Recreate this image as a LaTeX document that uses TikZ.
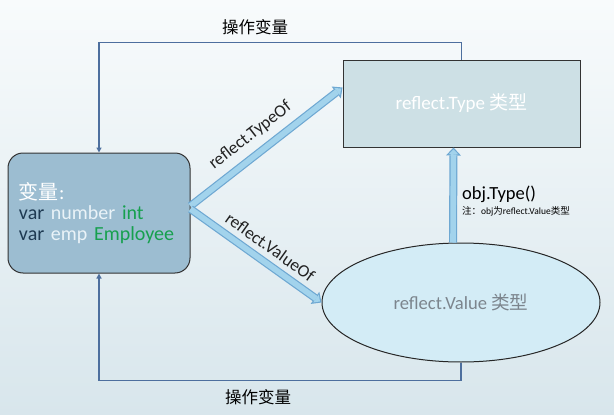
\documentclass[tikz,border=0pt]{standalone}
\usepackage{fontspec}
\setmainfont{Carlito}
\newfontfamily\cjk{Noto Sans CJK SC}
\usetikzlibrary{arrows.meta,shapes.geometric,calc}
\definecolor{bgtop}{HTML}{F8FBFC}
\definecolor{bgbot}{HTML}{D8E6EC}
\definecolor{varfill}{HTML}{9CBDD1}
\definecolor{vardark}{HTML}{1E3A52}
\definecolor{varlight}{HTML}{EAF3F8}
\definecolor{vargreen}{HTML}{16A04E}
\definecolor{typefill}{HTML}{CDE0E5}
\definecolor{valfill}{HTML}{D3ECF6}
\definecolor{valtext}{HTML}{7C858D}
\definecolor{connblue}{HTML}{4D6F9E}
\definecolor{fatedge}{HTML}{6EA8D2}
\definecolor{fatfill}{HTML}{A2D3EC}
\definecolor{labeltext}{HTML}{222222}
\tikzset{
  varbox/.style={draw=black!80, line width=1pt, fill=varfill, rounded corners=15pt,
    text width=160pt, inner xsep=11pt, minimum height=120pt, align=left,
    font=\fontsize{20pt}{20.5pt}\selectfont},
  typebox/.style={draw=black!80, line width=1pt, fill=typefill, minimum width=237pt,
    minimum height=87pt, inner sep=0pt, text=white, font=\fontsize{19pt}{22pt}\selectfont},
  valell/.style={ellipse, draw=black!85, line width=1pt, fill=valfill, minimum width=278pt,
    minimum height=119pt, inner sep=0pt, text=valtext, font=\fontsize{18.6pt}{22pt}\selectfont},
  conn/.style={draw=connblue, line width=1.5pt, -{Triangle[length=5pt,width=5pt]}},
  fat/.style={draw=fatedge, line width=8pt,
    -{Triangle[length=8pt,width=15pt,line width=0pt]},
    postaction={draw=fatfill, line width=5.6pt,
      -{Triangle[length=5pt,width=9.5pt,line width=0pt]}, shorten >=1.75pt}},
  oplabel/.style={text=black, font=\fontsize{16.5pt}{18pt}\selectfont\cjk},
  fatlabel/.style={text=labeltext, font=\fontsize{17.5pt}{20pt}\selectfont}
}
\begin{document}
\begin{tikzpicture}[x=1pt,y=-1pt]
\fill[top color=bgtop, bottom color=bgbot] (0,0) rectangle (614,415);
\useasboundingbox (0,0) rectangle (614,415);

\node[varbox] (var) at (99,213) {%
  {\color{white}{\cjk 变量}:}\\
  {\color{vardark}var} {\color{varlight}number} {\color{vargreen}int}\\
  {\color{vardark}var} {\color{varlight}emp} {\color{vargreen}Employee}};
\node[typebox] (type) at (461.5,103.5) {reflect.Type {\cjk 类型}};
\node[valell] (val) at (461,302.5) {reflect.Value {\cjk 类型}};

\coordinate (vstart1) at ([yshift=7pt]var.east);
\coordinate (vstart2) at ([yshift=4pt]var.east);
\coordinate (tend) at ([yshift=16pt]type.west);
\coordinate (ustart) at ([xshift=-8pt]val.north);
\coordinate (uend) at ([xshift=-8pt]type.south);

\draw[conn] (type.north) -- ++(0,-17) -| (var.north);
\draw[conn] (val.south) -- ++(0,18) -| (var.south);

\draw[fat] (vstart1) -- (tend)
  node[fatlabel, pos=0.47, sloped, above=4pt] (lto) {reflect.TypeOf};
\draw[fat] (vstart2) -- (val.west)
  node[fatlabel, pos=0.54, sloped, above=2pt] (lvo) {reflect.ValueOf};
\draw[fat] (ustart) -- (uend);

\node[oplabel] (op1) at (255,27) {操作变量};
\node[oplabel] (op2) at (258,397) {操作变量};

\node[anchor=west, inner sep=0pt, text=black, font=\fontsize{18.5pt}{20pt}\selectfont] (objt) at (462,194) {obj.Type()};
\node[anchor=west, inner sep=0pt, text=black, font=\fontsize{9.5pt}{11pt}\selectfont] (note) at (462,211) {{\cjk 注：}obj{\cjk 为}reflect.Value{\cjk 类型}};
\end{tikzpicture}
\end{document}
